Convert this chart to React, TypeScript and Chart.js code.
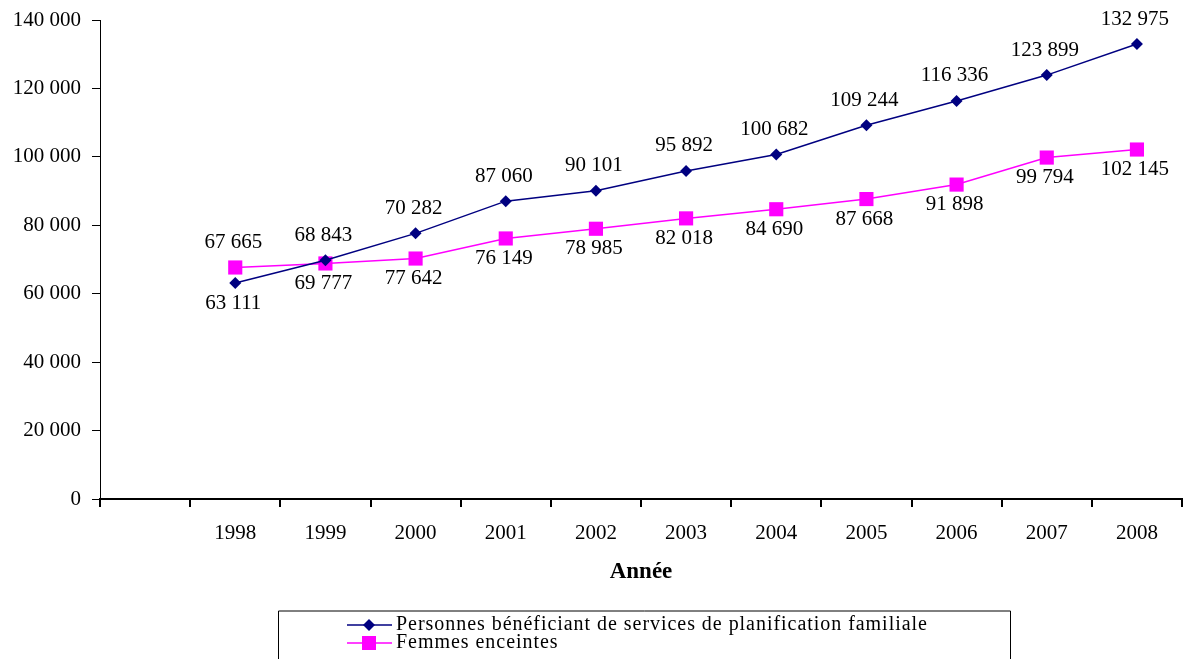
import React, { useEffect, useRef } from 'react';
import { Chart, registerables } from 'chart.js';

Chart.register(...registerables);

// Years on the category axis (an empty slot precedes 1998)
const years = ['1998', '1999', '2000', '2001', '2002', '2003', '2004', '2005', '2006', '2007', '2008'];

// Persons receiving family planning services
const beneficiaires = [63111, 69777, 77642, 87060, 90101, 95892, 100682, 109244, 116336, 123899, 132975];
// Pregnant women
const enceintes = [67665, 68843, 70282, 76149, 78985, 82018, 84690, 87668, 91898, 99794, 102145];

// Side of the pair of markers on which each value label is written
const beneficiairesLabelSide = ['below', 'below', 'below', 'above', 'above', 'above', 'above', 'above', 'above', 'above', 'above'];
const enceintesLabelSide = ['above', 'above', 'above', 'below', 'below', 'below', 'below', 'below', 'below', 'below', 'below'];

// Value axis ticks
const yTicks = [0, 20000, 40000, 60000, 80000, 100000, 120000, 140000];

const seriesNames = [
  'Personnes bénéficiant de services de planification familiale',
  'Femmes enceintes',
];

const NAVY = '#000080';
const MAGENTA = '#FF00FF';
const SERIF = '"Liberation Serif", "Times New Roman", serif';

const fmt = (v: number) => String(v).replace(/\B(?=(\d{3})+(?!\d))/g, ' ');

const valueLabels = {
  id: 'valueLabels',
  afterDatasetsDraw(chart: any) {
    const ctx = chart.ctx as CanvasRenderingContext2D;
    const m0 = chart.getDatasetMeta(0);
    const m1 = chart.getDatasetMeta(1);
    ctx.save();
    ctx.font = `21px ${SERIF}`;
    ctx.fillStyle = '#000';
    ctx.textAlign = 'center';
    ctx.textBaseline = 'middle';
    for (let i = 0; i < years.length; i++) {
      const p0 = m0.data[i + 1];
      const p1 = m1.data[i + 1];
      const top = Math.min(p0.y, p1.y);
      const bottom = Math.max(p0.y, p1.y);
      const items: [any, number, string][] = [
        [p0, beneficiaires[i], beneficiairesLabelSide[i]],
        [p1, enceintes[i], enceintesLabelSide[i]],
      ];
      for (const [p, v, side] of items) {
        const y = side === 'above' ? top - 25 : bottom + 20;
        ctx.fillText(fmt(v), p.x - 2, y);
      }
    }
    ctx.restore();
  },
};

const boxLegend = {
  id: 'boxLegend',
  afterDraw(chart: any) {
    const ctx = chart.ctx as CanvasRenderingContext2D;
    ctx.save();
    ctx.strokeStyle = '#000';
    ctx.lineWidth = 1;
    ctx.beginPath();
    ctx.moveTo(278.5, 680);
    ctx.lineTo(278.5, 611);
    ctx.lineTo(1010.5, 611);
    ctx.lineTo(1010.5, 680);
    ctx.stroke();

    ctx.font = `20px ${SERIF}`;
    const w = ctx.measureText(seriesNames[0]).width;
    const ls = Math.max(0, (532 - w) / seriesNames[0].length);
    (ctx as any).letterSpacing = `${ls.toFixed(2)}px`;
    ctx.textAlign = 'left';
    ctx.textBaseline = 'middle';

    const rows = [
      { y: 625, color: NAVY, marker: 'diamond', text: seriesNames[0] },
      { y: 643, color: MAGENTA, marker: 'square', text: seriesNames[1] },
    ];
    for (const r of rows) {
      ctx.strokeStyle = r.color;
      ctx.lineWidth = 1.5;
      ctx.beginPath();
      ctx.moveTo(347, r.y);
      ctx.lineTo(392, r.y);
      ctx.stroke();
      ctx.fillStyle = r.color;
      if (r.marker === 'diamond') {
        ctx.beginPath();
        ctx.moveTo(369, r.y - 6);
        ctx.lineTo(375, r.y);
        ctx.lineTo(369, r.y + 6);
        ctx.lineTo(363, r.y);
        ctx.closePath();
        ctx.fill();
      } else {
        ctx.fillRect(362, r.y - 7, 14, 14);
      }
      ctx.fillStyle = '#000';
      ctx.fillText(r.text, 396, r.y);
    }
    ctx.restore();
  },
};

export default function App() {
  const ref = useRef<HTMLCanvasElement | null>(null);

  useEffect(() => {
    if (!ref.current) return;
    const chart = new Chart(ref.current, {
      type: 'line',
      data: {
        labels: ['', ...years],
        datasets: [
          {
            label: seriesNames[0],
            data: [null, ...beneficiaires],
            borderColor: NAVY,
            backgroundColor: NAVY,
            borderWidth: 1.5,
            pointStyle: 'rectRot',
            pointRadius: 6,
            pointBorderWidth: 0,
            tension: 0,
          },
          {
            label: seriesNames[1],
            data: [null, ...enceintes],
            borderColor: MAGENTA,
            backgroundColor: MAGENTA,
            borderWidth: 1.5,
            pointStyle: 'rect',
            pointRadius: 10,
            pointBorderWidth: 0,
            tension: 0,
          },
        ],
      },
      options: {
        responsive: false,
        animation: false,
        layout: { padding: { top: 20, left: 0, right: 1, bottom: 0 } },
        plugins: {
          legend: { display: false },
          tooltip: { enabled: false },
        },
        scales: {
          x: {
            type: 'category',
            offset: true,
            grid: {
              offset: true,
              drawOnChartArea: false,
              drawTicks: true,
              tickLength: 8,
              color: '#000',
              lineWidth: 2,
            },
            border: { display: true, color: '#000', width: 2 },
            ticks: {
              color: '#000',
              font: { family: SERIF, size: 21 },
              padding: 14,
              autoSkip: false,
              maxRotation: 0,
            },
            title: {
              display: true,
              text: 'Année',
              color: '#000',
              font: { family: SERIF, size: 23, weight: 'bold' },
              padding: { top: 0, bottom: 73 },
            },
            afterFit: (s: any) => {
              s.height = 160;
            },
          },
          y: {
            min: 0,
            max: 140000,
            afterBuildTicks: (s: any) => {
              s.ticks = yTicks.map((v) => ({ value: v }));
            },
            grid: {
              drawOnChartArea: false,
              drawTicks: true,
              tickLength: 8,
              color: '#000',
              lineWidth: 1,
            },
            border: { display: true, color: '#000', width: 1 },
            ticks: {
              color: '#000',
              font: { family: SERIF, size: 21 },
              padding: 11,
              callback: (v: any) => fmt(Number(v)),
            },
            afterFit: (s: any) => {
              s.width = 100;
              s.paddingTop = 0;
              s.paddingBottom = 0;
            },
          },
        },
      },
      plugins: [valueLabels, boxLegend],
    } as any);
    return () => chart.destroy();
  }, []);

  return (
    <div style={{ position: 'fixed', left: 0, top: 0, width: 1186, height: 659, overflow: 'hidden', background: '#fff' }}>
      <canvas ref={ref} width={1192} height={659} style={{ display: 'block' }} />
    </div>
  );
}
